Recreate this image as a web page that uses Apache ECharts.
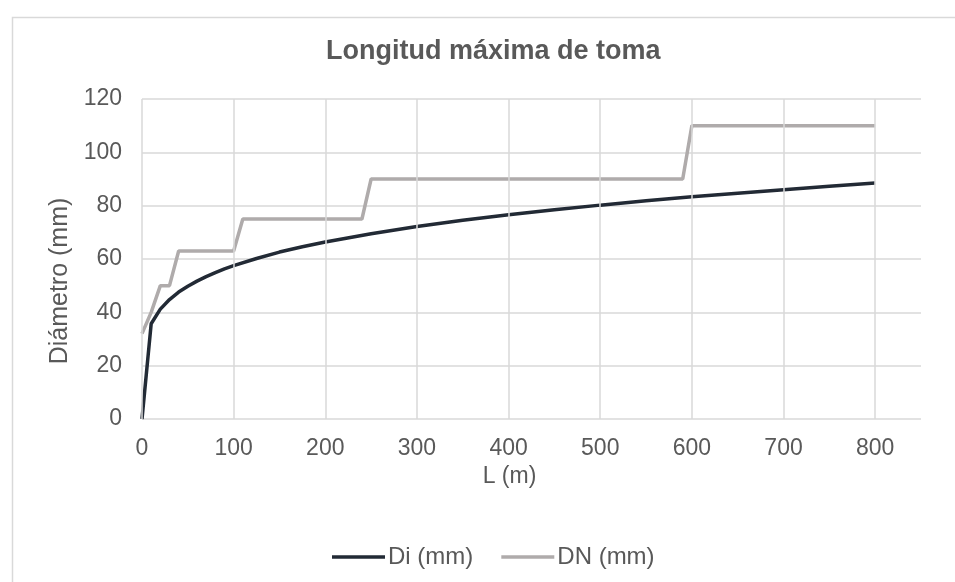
<!DOCTYPE html>
<html>
<head>
<meta charset="utf-8">
<script src="https://cdn.jsdelivr.net/npm/echarts@6/dist/echarts.min.js"></script>
<style>html,body{margin:0;padding:0;background:#fff}#c{width:955px;height:582px}</style>
</head>
<body>
<div id="c"></div>
<script>
// Data
const diL = [0, 10, 20, 30, 40, 50, 60, 70, 80, 90, 100, 125, 150, 175, 200, 250, 300, 350, 400, 450, 500, 550, 600, 650, 700, 750, 800];
const diVal = [0, 35.7, 41.2, 44.8, 47.6, 49.8, 51.7, 53.4, 54.9, 56.3, 57.5, 60.2, 62.6, 64.6, 66.4, 69.5, 72.2, 74.5, 76.6, 78.5, 80.2, 81.8, 83.3, 84.7, 86.0, 87.3, 88.5];
const dnL = [0, 10, 20, 30, 40, 100, 110, 240, 250, 590, 600, 800];
const dnVal = [32, 40, 50, 50, 63, 63, 75, 75, 90, 90, 110, 110];
const xTicks = [0, 100, 200, 300, 400, 500, 600, 700, 800];
const yTicks = [0, 20, 40, 60, 80, 100, 120];

const font = "'Liberation Sans', Arial, sans-serif";
const txt = '#595959';
const gridCol = '#d9d9d9';

const chart = echarts.init(document.getElementById('c'), null, {renderer: 'canvas'});
chart.setOption({
  animation: false,
  backgroundColor: '#fff',
  graphic: [{
    type: 'rect', left: 10, top: 15, silent: true,
    shape: {width: 980, height: 620},
    style: {fill: 'none', stroke: gridCol, lineWidth: 1.5}
  }],
  title: {
    text: 'Longitud máxima de toma', left: 321, top: 33,
    textStyle: {fontFamily: font, fontSize: 27, fontWeight: 'bold', color: txt}
  },
  legend: {
    bottom: 8, left: 327,
    data: ['Di (mm)', 'DN (mm)'],
    icon: 'rect',
    itemWidth: 53, itemHeight: 3.5, itemGap: 28,
    textStyle: {fontFamily: font, fontSize: 24, color: txt, padding: [0, 0, 0, -2]}
  },
  grid: {left: 142, right: 34, top: 99, bottom: 163, containLabel: false},
  xAxis: {
    type: 'value', min: 0, max: 850, interval: 100,
    name: 'L (m)', nameLocation: 'middle', nameGap: 42,
    nameTextStyle: {fontFamily: font, fontSize: 23, color: txt, padding: [0, 44, 0, 0]},
    axisLine: {show: false}, axisTick: {show: false}, splitLine: {show: false},
    axisLabel: {fontFamily: font, fontSize: 23, color: txt, margin: 18,
      formatter: v => xTicks.indexOf(v) >= 0 ? String(v) : ''}
  },
  yAxis: {
    type: 'value', min: 0, max: 120, interval: 20,
    name: 'Diámetro (mm)', nameLocation: 'middle', nameGap: 68, nameRotate: 90,
    nameTextStyle: {fontFamily: font, fontSize: 25, color: txt, padding: [0, 44, 0, 0]},
    axisLine: {show: false}, axisTick: {show: false},
    splitLine: {show: true, lineStyle: {color: gridCol, width: 1.5}},
    axisLabel: {fontFamily: font, fontSize: 23, color: txt, margin: 20,
      formatter: v => yTicks.indexOf(v) >= 0 ? String(v) : ''}
  },
  series: [
    {
      name: 'grid', type: 'line', data: [], z: 1, silent: true,
      markLine: {
        silent: true, symbol: 'none', label: {show: false},
        lineStyle: {color: gridCol, type: 'solid', width: 1.5},
        data: xTicks.map(v => ({xAxis: v}))
      }
    },
    {
      name: 'Di (mm)', type: 'line', z: 3, symbol: 'none', showSymbol: false,
      data: diL.map((l, i) => [l, diVal[i]]),
      lineStyle: {color: '#222a35', width: 3.5}, itemStyle: {color: '#222a35'}
    },
    {
      name: 'DN (mm)', type: 'line', z: 2, symbol: 'none', showSymbol: false,
      data: dnL.map((l, i) => [l, dnVal[i]]),
      lineStyle: {color: '#afabab', width: 3.5}, itemStyle: {color: '#afabab'}
    }
  ]
});
</script>
</body>
</html>
